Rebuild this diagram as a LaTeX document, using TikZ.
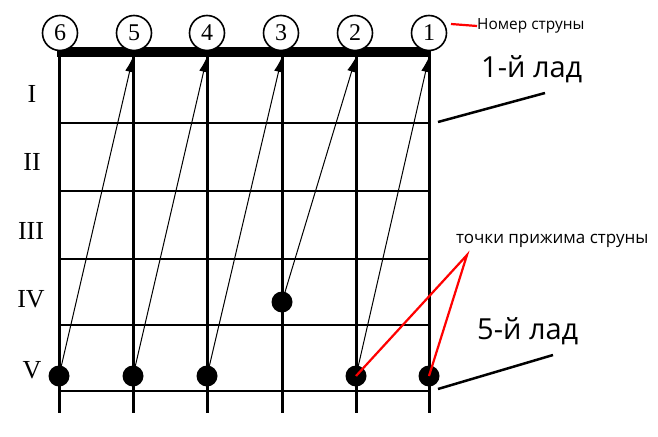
\documentclass[tikz,border=0pt]{standalone}
\usepackage{fontspec}
\setmainfont{Liberation Serif}
\newfontfamily\labfont{Open Sans}
\usetikzlibrary{arrows.meta}
\begin{document}
\begin{tikzpicture}[x=1pt,y=-1pt,
  stringline/.style={line width=3pt},
  fretline/.style={line width=2pt},
  numcirc/.style={circle,draw,line width=1.6pt,fill=white,minimum size=35pt,inner sep=0pt,font=\fontsize{24}{24}\selectfont},
  roman/.style={font=\fontsize{26}{26}\selectfont},
  pressdot/.style={circle,fill=black,minimum size=21pt,inner sep=0pt},
  movearrow/.style={line width=1pt,-{Latex[length=15pt,width=9pt]}},
  lab/.style={font=\labfont\fontsize{#1}{#1}\selectfont,inner sep=0pt},
  redline/.style={red,line width=2.2pt},
  pointer/.style={line width=2.5pt}
]
\useasboundingbox (0,0) rectangle (658,436);
% string tops and bottoms
\foreach \n/\x in {6/59,5/133,4/207,3/282,2/356,1/429}{
  \coordinate (t\n) at (\x,57);
  \coordinate (b\n) at (\x,413);
}
% frets
\foreach \y in {123,191,259,325,391}{
  \draw[fretline] (59,\y) -- (431,\y);
}
% strings
\foreach \n in {6,5,4,3,2,1}{
  \draw[stringline] (t\n) -- (b\n);
}
% nut
\draw[line width=10pt] (57,52) -- (431,52);
% string number circles
\foreach \n/\x in {6/60,5/134,4/207,3/281,2/355,1/429}{
  \node[numcirc] (c\n) at (\x,33) {\n};
}
% roman numerals
\node[roman] (r1) at (32,94) {I};
\node[roman] (r2) at (32,162) {II};
\node[roman] (r3) at (31,231) {III};
\node[roman] (r4) at (31,299) {IV};
\node[roman] (r5) at (32,370) {V};
% dots
\node[pressdot] (d6) at (59,376) {};
\node[pressdot] (d5) at (133,376) {};
\node[pressdot] (d4) at (207,376) {};
\node[pressdot] (d3) at (282,302) {};
\node[pressdot] (d2) at (356,376) {};
\node[pressdot] (d1) at (429,376) {};
% arrows
\draw[movearrow] (d6.center) -- (t5);
\draw[movearrow] (d5.center) -- (t4);
\draw[movearrow] (d4.center) -- (t3);
\draw[movearrow] (d3.center) -- (t2);
\draw[movearrow] (d2.center) -- (t1);
% labels
\node[lab=15.4,anchor=west] (nom) at (477,26) {Номер струны};
\draw[redline] (451,24) -- (nom.west);
\node[lab=29,anchor=west] (lad1) at (481,69) {1-й лад};
\coordinate (p1a) at (438,122);
\coordinate (p1b) at (545,93);
\draw[pointer] (p1a) -- (p1b);
\node[lab=29,anchor=west] (lad5) at (477,331) {5-й лад};
\coordinate (p5a) at (438,389);
\coordinate (p5b) at (553,355);
\draw[pointer] (p5a) -- (p5b);
\node[lab=17,anchor=west] (tochki) at (456,241) {точки прижима струны};
\coordinate (apex) at (467,255);
\draw[redline] (d2.center) -- (apex) -- (d1.center);
\end{tikzpicture}
\end{document}
